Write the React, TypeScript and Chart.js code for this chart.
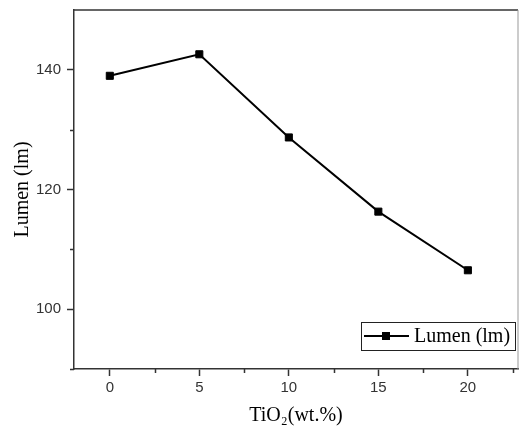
import React, { useEffect, useRef } from "react";
import { Chart, registerables } from "chart.js";

Chart.register(...registerables);

const tio2Content = [0, 5, 10, 15, 20];
const lumenValues = [139.0, 142.6, 128.7, 116.3, 106.5];
const xTickValues = [0, 5, 10, 15, 20];
const yTickValues = [100, 120, 140];
const xMinorTicks = [2.5, 7.5, 12.5, 17.5, 22.5];
const yMinorTicks = [90, 110, 130];
const seriesLabel = "Lumen (lm)";
const xTitle = "TiO\u2082(wt.%)";
const yTitle = "Lumen (lm)";

const SERIF = "'Liberation Serif', 'Times New Roman', serif";
const SANS = "'Liberation Sans', Arial, sans-serif";

const framePlugin = {
  id: "frame",
  afterDraw(chart: any) {
    const { ctx, chartArea } = chart;
    const { left, right, top, bottom } = chartArea;
    const xs = chart.scales.x;
    const ys = chart.scales.y;
    ctx.save();
    // top & right border
    ctx.strokeStyle = "#333";
    ctx.lineWidth = 1.5;
    ctx.beginPath();
    ctx.moveTo(left, top);
    ctx.lineTo(right, top);
    ctx.stroke();
    ctx.strokeStyle = "#999";
    ctx.lineWidth = 1;
    ctx.beginPath();
    ctx.moveTo(right, top);
    ctx.lineTo(right, bottom);
    ctx.stroke();
    // minor ticks
    ctx.strokeStyle = "#333";
    ctx.lineWidth = 1.5;
    ctx.beginPath();
    xMinorTicks.forEach((v) => {
      if (v < xs.min || v > xs.max) return;
      const px = Math.round(xs.getPixelForValue(v)) + 0.5;
      ctx.moveTo(px, bottom);
      ctx.lineTo(px, bottom + 4);
    });
    yMinorTicks.forEach((v) => {
      if (v < ys.min || v > ys.max) return;
      const py = Math.round(ys.getPixelForValue(v)) + 0.5;
      ctx.moveTo(left, py);
      ctx.lineTo(left - 4, py);
    });
    ctx.stroke();

    // legend
    const bl = right - 157;
    const br = right - 3;
    const bt = bottom - 47;
    const bb = bottom - 19;
    ctx.fillStyle = "#fff";
    ctx.fillRect(bl, bt, br - bl, bb - bt);
    ctx.strokeStyle = "#222";
    ctx.lineWidth = 1;
    ctx.strokeRect(bl + 0.5, bt + 0.5, br - bl, bb - bt);
    const cy = (bt + bb) / 2;
    ctx.strokeStyle = "#000";
    ctx.lineWidth = 2;
    ctx.beginPath();
    ctx.moveTo(bl + 3, cy);
    ctx.lineTo(bl + 48, cy);
    ctx.stroke();
    ctx.fillStyle = "#000";
    ctx.fillRect(bl + 25 - 4, cy - 4, 8, 8);
    ctx.font = `20px ${SERIF}`;
    ctx.textBaseline = "middle";
    ctx.textAlign = "left";
    ctx.fillText(chart.data.datasets[0].label, bl + 53, cy + 1);
    ctx.restore();
  },
};

const zeroPadding = (scale: any) => {
  scale.paddingTop = 0;
  scale.paddingBottom = 0;
  scale.paddingLeft = 0;
  scale.paddingRight = 0;
};

export default function App() {
  const canvasRef = useRef<HTMLCanvasElement | null>(null);

  useEffect(() => {
    if (!canvasRef.current) return;
    const chart = new Chart(canvasRef.current, {
      type: "line",
      data: {
        datasets: [
          {
            label: seriesLabel,
            data: tio2Content.map((x, i) => ({ x, y: lumenValues[i] })),
            borderColor: "#000",
            backgroundColor: "#000",
            borderWidth: 2,
            pointStyle: "rect",
            pointRadius: 5,
            pointBorderWidth: 1,
            pointBackgroundColor: "#000",
            pointBorderColor: "#000",
            tension: 0,
          },
        ],
      },
      options: {
        animation: false,
        responsive: false,
        layout: { autoPadding: false, padding: { top: 10, right: 2, left: 0, bottom: 0 } },
        plugins: {
          legend: { display: false },
          tooltip: { enabled: false },
        },
        scales: {
          x: {
            type: "linear",
            min: -2,
            max: 22.8,
            afterBuildTicks: (scale: any) => {
              scale.ticks = xTickValues.map((v) => ({ value: v }));
            },
            afterFit: (scale: any) => {
              scale.height = 61;
              zeroPadding(scale);
            },
            grid: {
              drawOnChartArea: false,
              drawTicks: true,
              tickLength: 7,
              tickColor: "#333",
              tickWidth: 1.5,
            },
            border: { display: true, color: "#333", width: 1.5 },
            ticks: {
              padding: 3,
              color: "#333",
              font: { family: SANS, size: 15 },
              callback: (v: any) => String(v),
            },
            title: {
              display: true,
              text: xTitle,
              color: "#000",
              font: { family: SERIF, size: 20 },
              padding: { top: 0, bottom: 2 },
            },
          },
          y: {
            type: "linear",
            min: 90,
            max: 150,
            afterBuildTicks: (scale: any) => {
              scale.ticks = yTickValues.map((v) => ({ value: v }));
            },
            afterFit: (scale: any) => {
              scale.width = 74;
              zeroPadding(scale);
            },
            grid: {
              drawOnChartArea: false,
              drawTicks: true,
              tickLength: 7,
              tickColor: "#333",
              tickWidth: 1.5,
            },
            border: { display: true, color: "#333", width: 1.5 },
            ticks: {
              padding: 6,
              color: "#333",
              font: { family: SANS, size: 15 },
              callback: (v: any) => String(v),
            },
            title: {
              display: true,
              text: yTitle,
              color: "#000",
              font: { family: SERIF, size: 20 },
              padding: { top: 11, bottom: 0 },
            },
          },
        },
      },
      plugins: [framePlugin],
    });
    return () => chart.destroy();
  }, []);

  return (
    <div style={{ position: "fixed", left: 0, top: 0, width: 520, height: 430, background: "#fff" }}>
      <canvas ref={canvasRef} width={520} height={430} style={{ display: "block" }} />
    </div>
  );
}
